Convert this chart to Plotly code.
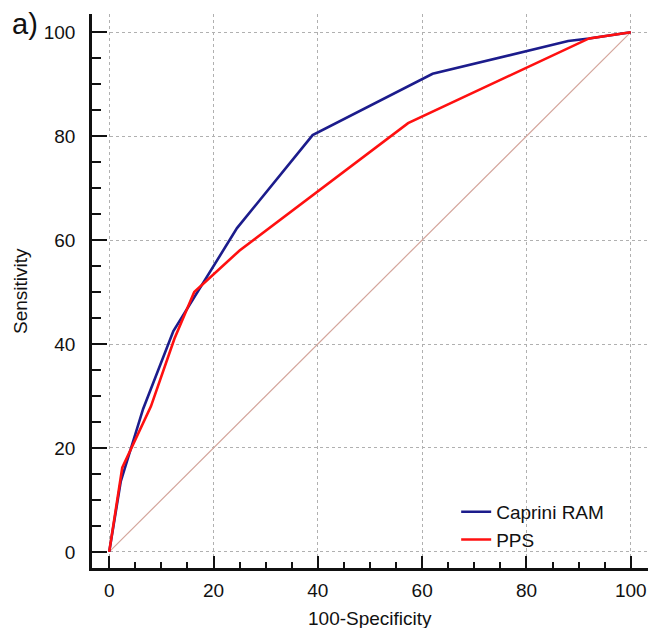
import plotly.graph_objects as go

# ROC curve data (100-Specificity, Sensitivity)
caprini_x = [0, 0.5, 2.2, 6.5, 12.3, 24.5, 39.0, 62.0, 88.0, 92.0, 100]
caprini_y = [0, 3.0, 13.5, 27.5, 42.5, 62.3, 80.2, 92.0, 98.3, 98.8, 100]

pps_x = [0, 2.5, 8.0, 12.5, 16.3, 25.0, 57.3, 92.0, 100]
pps_y = [0, 16.2, 28.0, 41.0, 50.0, 58.0, 82.5, 98.8, 100]

ref_x = [0, 100]
ref_y = [0, 100]

tick_vals = [0, 20, 40, 60, 80, 100]
tick_text = ["0", "20", "40", "60", "80", "100"]

FONT = "Liberation Sans, Arial, sans-serif"
FS = 19

fig = go.Figure()
fig.add_trace(go.Scatter(x=ref_x, y=ref_y, mode="lines",
                         line=dict(color="#d4a59c", width=1.2),
                         showlegend=False, hoverinfo="skip"))
fig.add_trace(go.Scatter(x=caprini_x, y=caprini_y, mode="lines", name="Caprini RAM",
                         line=dict(color="#1c1c8c", width=2.6)))
fig.add_trace(go.Scatter(x=pps_x, y=pps_y, mode="lines", name="PPS",
                         line=dict(color="#ff1010", width=2.6)))

axis_common = dict(
    tickvals=tick_vals, ticktext=tick_text,
    showline=True, linecolor="#111111", linewidth=2.5, mirror=False,
    showgrid=True, gridcolor="#b0b0b0", gridwidth=1, griddash="dot",
    zeroline=False, automargin=False,
    ticks="inside", tickcolor="#111111", tickwidth=2,
    tickfont=dict(family=FONT, size=FS, color="#111111"),
    minor=dict(ticks="inside", dtick=5, tick0=0, tickcolor="#111111",
               tickwidth=1.5, showgrid=False),
)

fig.update_xaxes(**axis_common, range=[-3.3, 103.3], ticklen=12,
                 ticklabelstandoff=3)
fig.update_xaxes(minor_ticklen=6)
fig.update_yaxes(**axis_common, range=[-3.1, 103.5], ticklen=15,
                 ticklabelstandoff=10)
fig.update_yaxes(minor_ticklen=9)

# axis titles and panel label
fig.add_annotation(text="100-Specificity", xref="paper", yref="paper",
                   x=0.5, y=-0.0903, xanchor="center", yanchor="middle",
                   showarrow=False, font=dict(family=FONT, size=FS, color="#111111"))
fig.add_annotation(text="Sensitivity", xref="paper", yref="paper",
                   x=-0.1295, y=0.5, xanchor="center", yanchor="middle",
                   textangle=-90, showarrow=False,
                   font=dict(family=FONT, size=FS, color="#111111"))
fig.add_annotation(text="a)", xref="paper", yref="paper", x=-0.1205, y=0.982,
                   xanchor="center", yanchor="middle", showarrow=False,
                   font=dict(family=FONT, size=29, color="#111111"))

fig.update_layout(
    width=648, height=628,
    margin=dict(l=92, r=0, t=14, b=60, autoexpand=False),
    plot_bgcolor="white", paper_bgcolor="white",
    font=dict(family=FONT, size=FS, color="#111111"),
    legend=dict(x=0.655, y=0.1355, xanchor="left", yanchor="top",
                bgcolor="rgba(0,0,0,0)", borderwidth=0,
                font=dict(family=FONT, size=FS, color="#111111"),
                tracegroupgap=0),
)

# remove the page's default body margin so the 648x628 figure fills the window
fig.write_html("out.html",
               config={"displayModeBar": False},
               post_script="document.body.style.margin='0';document.body.style.overflow='hidden';")
